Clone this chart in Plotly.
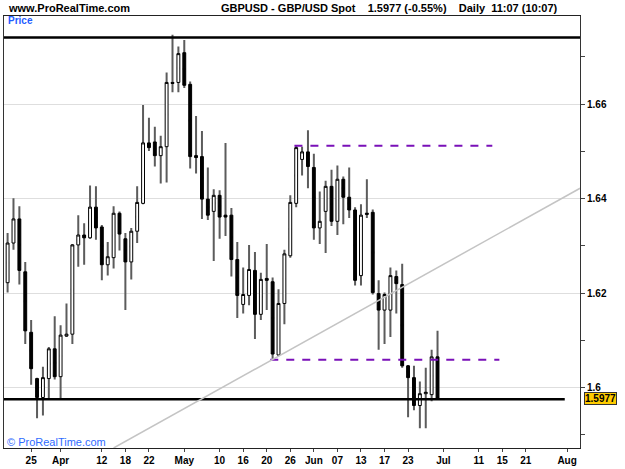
import plotly.graph_objects as go

# ---- data (GBP/USD daily candles, trading-day index 0..73) ----
opens = [1.6222, 1.6306, 1.6357, 1.6245, 1.6117, 1.6019, 1.5979, 1.6019, 1.6082, 1.6023,
         1.6109, 1.6113, 1.6302, 1.6323, 1.6317, 1.6382, 1.6340, 1.6260, 1.6275, 1.6369,
         1.6315, 1.6266, 1.6331, 1.6390, 1.6518, 1.6520, 1.6491, 1.6510, 1.6646, 1.6646,
         1.6709, 1.6642, 1.6491, 1.6489, 1.6399, 1.6373, 1.6407, 1.6365, 1.6365, 1.6271,
         1.6176, 1.6195, 1.6248, 1.6155, 1.6231, 1.6224, 1.6069, 1.6178, 1.6279, 1.6390,
         1.6483, 1.6499, 1.6466, 1.6338, 1.6373, 1.6426, 1.6352, 1.6441, 1.6403, 1.6376,
         1.6237, 1.6369, 1.6371, 1.6199, 1.6164, 1.6164, 1.6235, 1.6218, 1.6046, 1.6021,
         1.5962, 1.5987, 1.5985, 1.6065]
highs = [1.6327, 1.6401, 1.6384, 1.6266, 1.6143, 1.6021, 1.6044, 1.6086, 1.6151, 1.6132,
         1.6178, 1.6304, 1.6365, 1.6348, 1.6428, 1.6426, 1.6344, 1.6308, 1.6384, 1.6373,
         1.6327, 1.6338, 1.6426, 1.6598, 1.6571, 1.6552, 1.6533, 1.6667, 1.6747, 1.6722,
         1.6736, 1.6648, 1.6575, 1.6543, 1.6466, 1.6420, 1.6418, 1.6518, 1.6380, 1.6308,
         1.6254, 1.6302, 1.6287, 1.6243, 1.6304, 1.6233, 1.6208, 1.6292, 1.6407, 1.6512,
         1.6510, 1.6545, 1.6495, 1.6415, 1.6438, 1.6461, 1.6470, 1.6447, 1.6466, 1.6382,
         1.6388, 1.6441, 1.6377, 1.6227, 1.6201, 1.6254, 1.6248, 1.6262, 1.6048, 1.6046,
         1.6013, 1.6042, 1.6080, 1.6120]
lows = [1.6201, 1.6292, 1.6218, 1.6092, 1.6006, 1.5935, 1.5941, 1.5977, 1.6017, 1.5977,
        1.6107, 1.6092, 1.6256, 1.6260, 1.6315, 1.6313, 1.6227, 1.6237, 1.6252, 1.6290,
        1.6164, 1.6229, 1.6306, 1.6388, 1.6501, 1.6468, 1.6432, 1.6434, 1.6625, 1.6625,
        1.6634, 1.6464, 1.6453, 1.6357, 1.6355, 1.6268, 1.6315, 1.6321, 1.6235, 1.6147,
        1.6157, 1.6174, 1.6103, 1.6143, 1.6164, 1.6061, 1.6067, 1.6134, 1.6275, 1.6382,
        1.6449, 1.6422, 1.6313, 1.6304, 1.6285, 1.6342, 1.6323, 1.6346, 1.6359, 1.6216,
        1.6216, 1.6359, 1.6197, 1.6080, 1.6092, 1.6107, 1.6157, 1.6042, 1.5937, 1.5952,
        1.5914, 1.5914, 1.5971, 1.5975]
closes = [1.6306, 1.6357, 1.6248, 1.6120, 1.6040, 1.5979, 1.6021, 1.6082, 1.6023, 1.6111,
          1.6113, 1.6302, 1.6323, 1.6317, 1.6382, 1.6338, 1.6260, 1.6277, 1.6369, 1.6325,
          1.6266, 1.6331, 1.6392, 1.6518, 1.6508, 1.6491, 1.6510, 1.6646, 1.6644, 1.6707,
          1.6640, 1.6489, 1.6487, 1.6399, 1.6365, 1.6407, 1.6361, 1.6361, 1.6271, 1.6195,
          1.6197, 1.6250, 1.6155, 1.6229, 1.6227, 1.6071, 1.6178, 1.6283, 1.6392, 1.6508,
          1.6499, 1.6468, 1.6338, 1.6352, 1.6426, 1.6352, 1.6441, 1.6403, 1.6376, 1.6227,
          1.6365, 1.6367, 1.6201, 1.6164, 1.6197, 1.6237, 1.6220, 1.6046, 1.6021, 1.5962,
          1.5987, 1.5990, 1.6065, 1.5977]

tick_idx = [4, 9, 16, 20, 24, 30, 36, 40, 44, 48, 52, 56, 60, 64, 68, 74, 80, 84, 88, 95]
tick_text = ["25", "Apr", "12", "18", "22", "May", "10", "16", "20", "26", "Jun", "07",
             "13", "17", "23", "Jul", "11", "15", "21", "Aug"]
y_major = [1.60, 1.62, 1.64, 1.66]
y_major_text = ["1.6", "1.62", "1.64", "1.66"]

last_price = 1.5977
resistance = 1.6741
support = 1.5975
upper_dash = (48.7, 82.3, 1.6512)
lower_dash = (44.6, 83.5, 1.6059)
trend_pts = [(18.0, 1.5872), (97.2, 1.6422)]
support_end = 94.6

# ---- geometry ----
W, H = 625, 469
L, R, T, B = 3, 45, 16, 17
X_RANGE = [-0.61, 97.19]
Y_RANGE = [1.58720, 1.67867]
PW, PH = W - L - R, H - T - B

def px(xp):
    return (xp - L) / PW

def py(yp):
    return (H - B - yp) / PH

FONT = "Liberation Sans, Arial, sans-serif"
n = len(opens)
xs = list(range(n))
body_top = [max(o, c) for o, c in zip(opens, closes)]
body_bot = [min(o, c) for o, c in zip(opens, closes)]
mid = [(o + c) / 2 for o, c in zip(opens, closes)]

fig = go.Figure()
# wicks: gray, full high-low range (box collapsed to the body middle, hidden by bodies)
fig.add_trace(go.Candlestick(
    x=xs, open=mid, close=mid, high=highs, low=lows,
    increasing=dict(line=dict(color="#5c5c5c", width=2), fillcolor="rgba(0,0,0,0)"),
    decreasing=dict(line=dict(color="#5c5c5c", width=2), fillcolor="rgba(0,0,0,0)"),
    whiskerwidth=0, showlegend=False, hoverinfo="skip"))
# bodies
fig.add_trace(go.Candlestick(
    x=xs, open=opens, close=closes, high=body_top, low=body_bot,
    increasing=dict(line=dict(color="#000000", width=1), fillcolor="#ffffff"),
    decreasing=dict(line=dict(color="#000000", width=1), fillcolor="#000000"),
    whiskerwidth=0, showlegend=False, hoverinfo="skip"))

shapes = [
    dict(type="line", xref="paper", yref="y", x0=0, x1=1, y0=resistance, y1=resistance,
         line=dict(color="#000000", width=2.5), layer="above"),
    dict(type="line", xref="x", yref="y", x0=X_RANGE[0], x1=support_end, y0=support, y1=support,
         line=dict(color="#000000", width=2.5), layer="above"),
    dict(type="line", xref="x", yref="y", x0=upper_dash[0], x1=upper_dash[1],
         y0=upper_dash[2], y1=upper_dash[2],
         line=dict(color="#7a10b8", width=2, dash="8px,8px"), layer="above"),
    dict(type="line", xref="x", yref="y", x0=lower_dash[0], x1=lower_dash[1],
         y0=lower_dash[2], y1=lower_dash[2],
         line=dict(color="#7a10b8", width=2, dash="8px,8px"), layer="above"),
    dict(type="line", xref="x", yref="y", x0=trend_pts[0][0], y0=trend_pts[0][1],
         x1=trend_pts[1][0], y1=trend_pts[1][1],
         line=dict(color="#c4c4c4", width=1.5), layer="above"),
]

ann = [
    dict(text="www.ProRealTime.com", x=px(5), y=py(8), xref="paper", yref="paper",
         xanchor="left", yanchor="middle", showarrow=False,
         font=dict(family=FONT, size=11, color="#000000", weight="bold")),
    dict(text="GBPUSD - GBP/USD Spot    1.5977 (-0.55%)    Daily  11:07 (10:07)",
         x=px(218), y=py(8), xref="paper", yref="paper",
         xanchor="left", yanchor="middle", showarrow=False,
         font=dict(family=FONT, size=11, color="#000000", weight="bold")),
    dict(text="Price", x=px(5), y=py(21), xref="paper", yref="paper",
         xanchor="left", yanchor="middle", showarrow=False,
         font=dict(family=FONT, size=10, color="#1f5cff", weight="bold")),
    dict(text="© ProRealTime.com", x=px(4), y=py(446), xref="paper", yref="paper",
         xanchor="left", yanchor="middle", showarrow=False,
         font=dict(family=FONT, size=11, color="#2f6bff")),
    dict(text="<b>1.5977</b>", x=px(584), y=last_price, xref="paper", yref="y",
         xanchor="left", yanchor="middle", showarrow=False,
         bgcolor="#ffcc00", bordercolor="#333333", borderwidth=1, borderpad=0,
         font=dict(family=FONT, size=10, color="#000000")),
]

fig.update_layout(
    width=W, height=H, margin=dict(l=L, r=R, t=T, b=B),
    paper_bgcolor="#ffffff", plot_bgcolor="#ffffff",
    showlegend=False, shapes=shapes, annotations=ann,
    xaxis=dict(range=X_RANGE, showgrid=False, zeroline=False,
               tickmode="array", tickvals=tick_idx, ticktext=tick_text,
               ticks="outside", ticklen=3, tickcolor="#444444",
               showline=True, linecolor="#222222", linewidth=1, mirror=True,
               rangeslider=dict(visible=False),
               tickfont=dict(family=FONT, size=10, color="#000000", weight="bold")),
    yaxis=dict(range=Y_RANGE, side="right", zeroline=False,
               tickmode="array", tickvals=y_major, ticktext=y_major_text,
               showgrid=True, gridcolor="#dedede", gridwidth=1,
               ticks="outside", ticklen=4, tickcolor="#444444",
               showline=True, linecolor="#333333", linewidth=1, mirror=True,
               minor=dict(tick0=1.59, dtick=0.01, ticks="outside", ticklen=4,
                          tickcolor="#444444", showgrid=False),
               tickfont=dict(family=FONT, size=10, color="#000000", weight="bold")),
)

fig.write_html("out.html")
